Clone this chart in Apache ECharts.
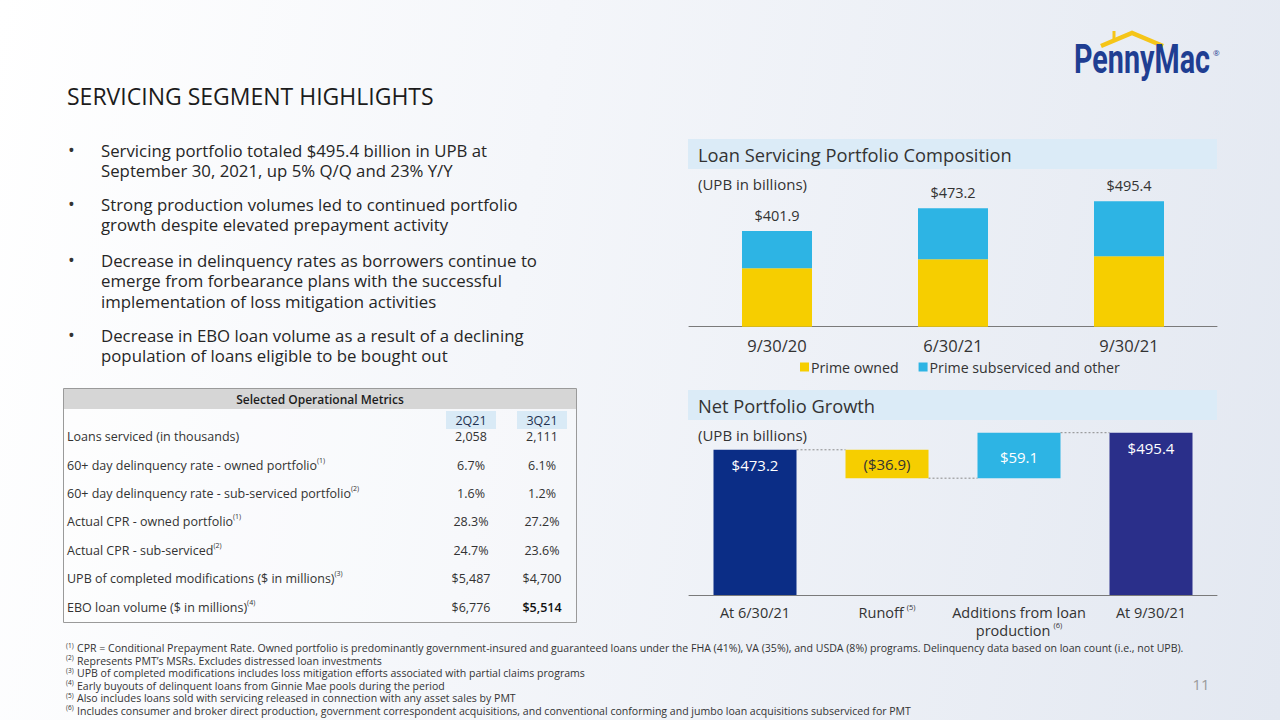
<!DOCTYPE html>
<html><head><meta charset="utf-8">
<script src="https://cdn.jsdelivr.net/npm/echarts@6/dist/echarts.min.js"></script>
<style>
html,body{margin:0;padding:0;width:1280px;height:720px;overflow:hidden;
background:linear-gradient(100deg,#ffffff 0%,#f4f6fa 40%,#e3e8f1 100%);}
#c{width:1280px;height:720px;}
</style></head><body><div id="c"></div>
<script>
// ---------- data ----------
const compCategories = ['9/30/20', '6/30/21', '9/30/21'];
const primeOwned = [284.0, 312.3, 321.8];
const primeSubserviced = [117.9, 160.9, 173.6];
const compTotals = [401.9, 473.2, 495.4];
const compSeriesNames = ['Prime owned', 'Prime subserviced and other'];

const wfCategories = ['At 6/30/21', 'Runoff', 'Additions from loan\nproduction', 'At 9/30/21'];
const wfNotes = ['', '5', '6', ''];
const wfValues = [473.2, -36.9, 59.1, 495.4];
const wfIsTotal = [true, false, false, true];

const quarterLabels = ['2Q21', '3Q21'];
const metricLabels = [
  'Loans serviced (in thousands)',
  '60+ day delinquency rate - owned portfolio',
  '60+ day delinquency rate - sub-serviced portfolio',
  'Actual CPR - owned portfolio',
  'Actual CPR - sub-serviced',
  'UPB of completed modifications ($ in millions)',
  'EBO loan volume ($ in millions)'
];
const metricNotes = ['', '1', '2', '1', '2', '3', '4'];
const metricQ2 = ['2,058', '6.7%', '1.6%', '28.3%', '24.7%', '$5,487', '$6,776'];
const metricQ3 = ['2,111', '6.1%', '1.2%', '27.2%', '23.6%', '$4,700', '$5,514'];

const bullets = [
  ['Servicing portfolio totaled $495.4 billion in UPB at', 'September 30, 2021, up 5% Q/Q and 23% Y/Y'],
  ['Strong production volumes led to continued portfolio', 'growth despite elevated prepayment activity'],
  ['Decrease in delinquency rates as borrowers continue to', 'emerge from forbearance plans with the successful', 'implementation of loss mitigation activities'],
  ['Decrease in EBO loan volume as a result of a declining', 'population of loans eligible to be bought out']
];
const footnotes = [
  'CPR = Conditional Prepayment Rate. Owned portfolio is predominantly government-insured and guaranteed loans under the FHA (41%), VA (35%), and USDA (8%) programs. Delinquency data based on loan count (i.e., not UPB).',
  'Represents PMT\u2019s MSRs. Excludes distressed loan investments',
  'UPB of completed modifications includes loss mitigation efforts associated with partial claims programs',
  'Early buyouts of delinquent loans from Ginnie Mae pools during the period',
  'Also includes loans sold with servicing released in connection with any asset sales by PMT',
  'Includes consumer and broker direct production, government correspondent acquisitions, and conventional conforming and jumbo loan acquisitions subserviced for PMT'
];

// ---------- styles ----------
const FONT = '"Open Sans", Lato, sans-serif';
const TXT = '#333333';
const YELLOW = '#F6CE00';
const CYAN = '#2DB4E4';
const wfColors = ['#0B2D86', YELLOW, CYAN, '#2A2F8A'];
const wfLabelColors = ['#ffffff', '#333333', '#ffffff', '#ffffff'];
const WF_BAR = 83;

// waterfall stacking built from the values
const wfBase = [], wfBar = [], wfLevels = [];
let running = 0;
wfValues.forEach((v, i) => {
  if (wfIsTotal[i]) { wfBase.push(0); wfBar.push(v); running = v; }
  else if (v < 0) { running += v; wfBase.push(running); wfBar.push(-v); }
  else { wfBase.push(running); wfBar.push(v); running += v; }
  wfLevels.push(running);
});
const fmtMoney = v => (v < 0 ? '($' + Math.abs(v).toFixed(1) + ')' : '$' + v.toFixed(1));

// ---------- graphic (slide texts) ----------
const g = [];
g.push({type: 'text', x: 67, y: 96, style: {text: 'SERVICING SEGMENT HIGHLIGHTS', fill: '#1c1c1c', fontSize: 23, fontFamily: FONT, verticalAlign: 'middle'}});
const bulletY = [150, 204, 260, 335];
bullets.forEach((lines, i) => {
  g.push({type: 'text', x: 68, y: bulletY[i], style: {text: '\u2022', fill: TXT, fontSize: 18, fontFamily: FONT, verticalAlign: 'middle'}});
  g.push({type: 'text', x: 101, y: bulletY[i] - 10.25, style: {text: lines.join('\n'), fill: '#262626', fontSize: 16.8, lineHeight: 20.5, fontFamily: FONT, verticalAlign: 'top'}});
});

// table
g.push({type: 'rect', shape: {x: 63.5, y: 388.5, width: 513, height: 234}, style: {fill: 'rgba(255,255,255,0.25)', stroke: '#9a9a9a', lineWidth: 1}});
g.push({type: 'rect', shape: {x: 64, y: 389, width: 512, height: 20}, style: {fill: '#d6d6d6'}});
g.push({type: 'text', x: 320, y: 399.5, style: {text: 'Selected Operational Metrics', fill: '#1c1c1c', fontSize: 12, fontWeight: 600, fontFamily: FONT, align: 'center', verticalAlign: 'middle'}});
const colX = [471, 542];
quarterLabels.forEach((q, j) => {
  g.push({type: 'rect', shape: {x: colX[j] - 25, y: 411, width: 50, height: 18}, style: {fill: '#d9eaf6'}});
  g.push({type: 'text', x: colX[j], y: 420, style: {text: q, fill: '#22304e', fontSize: 12.5, fontFamily: FONT, align: 'center', verticalAlign: 'middle'}});
});
const rowY = [436, 465, 493, 521, 550, 578, 607];
metricLabels.forEach((lab, i) => {
  g.push({type: 'text', x: 67, y: rowY[i], style: {
    text: lab + (metricNotes[i] ? '{sup|(' + metricNotes[i] + ')}' : ''),
    fill: TXT, fontSize: 12.5, lineHeight: 16, fontFamily: FONT, verticalAlign: 'middle',
    rich: {sup: {fontSize: 7, lineHeight: 8, verticalAlign: 'top', fill: TXT, fontFamily: FONT}}
  }});
  g.push({type: 'text', x: colX[0], y: rowY[i], style: {text: metricQ2[i], fill: TXT, fontSize: 12.5, fontFamily: FONT, align: 'center', verticalAlign: 'middle'}});
  g.push({type: 'text', x: colX[1], y: rowY[i], style: {text: metricQ3[i], fill: i === 6 ? '#111' : TXT, fontWeight: i === 6 ? 600 : 'normal', fontSize: 12.5, fontFamily: FONT, align: 'center', verticalAlign: 'middle'}});
});

// footnotes
const fnY = [648, 660.5, 673, 685.5, 698, 710.5];
footnotes.forEach((t, i) => {
  g.push({type: 'text', x: 66, y: fnY[i] - 3, style: {text: '(' + (i + 1) + ')', fill: TXT, fontSize: 6.5, fontFamily: FONT, verticalAlign: 'middle'}});
  g.push({type: 'text', x: 77, y: fnY[i], style: {text: t, fill: TXT, fontSize: 10.55, fontFamily: FONT, verticalAlign: 'middle'}});
});
g.push({type: 'text', x: 1201, y: 684, style: {text: '11', fill: '#9a9a9a', fontSize: 15, fontFamily: FONT, align: 'center', verticalAlign: 'middle'}});

// chart headers
[[139, 'Loan Servicing Portfolio Composition', 184], [390, 'Net Portfolio Growth', 435]].forEach(([y, t, uy]) => {
  g.push({type: 'rect', shape: {x: 688, y: y, width: 529, height: 30}, style: {fill: '#dbebf7'}});
  g.push({type: 'text', x: 698, y: y + 15, style: {text: t, fill: TXT, fontSize: 18.3, fontFamily: FONT, verticalAlign: 'middle'}});
  g.push({type: 'text', x: 698, y: uy, style: {text: '(UPB in billions)', fill: TXT, fontSize: 15, fontFamily: FONT, verticalAlign: 'middle'}});
});

// logo
const LOGO_FONT = 'bold 41px Roboto';
const mctx = document.createElement('canvas').getContext('2d');
mctx.font = LOGO_FONT;
const logoW = mctx.measureText('PennyMac').width || 180;
const logoScale = 136 / logoW;
g.push({type: 'polyline', shape: {points: [[1101, 46], [1132, 33], [1163, 46]]}, style: {stroke: '#F5C518', lineWidth: 4.5, fill: null}});
g.push({type: 'line', shape: {x1: 1114, y1: 31, x2: 1114, y2: 40}, style: {stroke: '#F5C518', lineWidth: 3}});
g.push({type: 'text', x: 1074, y: 59, scaleX: logoScale, style: {text: 'PennyMac', fill: '#1F3E92', font: LOGO_FONT, verticalAlign: 'middle'}});
g.push({type: 'text', x: 1213, y: 52, style: {text: '\u00AE', fill: '#1F3E92', fontSize: 8, fontFamily: FONT, verticalAlign: 'middle'}});

// ---------- chart ----------
const axisLineStyle = {color: '#7a7a7a', width: 1};
const option = {
  animation: false,
  textStyle: {fontFamily: FONT},
  legend: {
    data: compSeriesNames, left: 795, top: 355, itemWidth: 9, itemHeight: 9, itemGap: 20, icon: 'rect',
    textStyle: {fontSize: 14.2, color: TXT, fontFamily: FONT, padding: [0, 0, 0, -3]}
  },
  grid: [
    {left: 689, width: 528, top: 201.2, height: 125.5, containLabel: false},
    {left: 689, width: 528, top: 432.7, height: 162.3, containLabel: false}
  ],
  xAxis: [
    {type: 'category', gridIndex: 0, data: compCategories,
     axisLine: {lineStyle: axisLineStyle}, axisTick: {length: 5, lineStyle: axisLineStyle},
     axisLabel: {interval: 0, fontSize: 16.5, color: TXT, margin: 10, fontFamily: FONT}},
    {type: 'category', gridIndex: 1, data: wfCategories,
     axisLine: {lineStyle: axisLineStyle}, axisTick: {length: 5, lineStyle: axisLineStyle},
     axisLabel: {interval: 0, fontSize: 14.5, color: TXT, margin: 8, lineHeight: 18, fontFamily: FONT,
       formatter: (v, i) => v + (wfNotes[i] ? '{sup|(' + wfNotes[i] + ')}' : ''),
       rich: {sup: {fontSize: 7.5, lineHeight: 9, verticalAlign: 'top', color: TXT, padding: [0, 0, 0, 3]}}}}
  ],
  yAxis: [
    {type: 'value', gridIndex: 0, min: 100, max: 495.4, show: false, splitLine: {show: false}},
    {type: 'value', gridIndex: 1, min: 284.5, max: 495.4, show: false, splitLine: {show: false}}
  ],
  series: [
    {name: compSeriesNames[0], type: 'bar', stack: 'comp', xAxisIndex: 0, yAxisIndex: 0, barWidth: 70,
     data: primeOwned, itemStyle: {color: YELLOW}},
    {name: compSeriesNames[1], type: 'bar', stack: 'comp', xAxisIndex: 0, yAxisIndex: 0, barWidth: 70,
     data: primeSubserviced, itemStyle: {color: CYAN},
     label: {show: true, position: 'top', distance: 8, fontSize: 14.5, color: TXT, fontFamily: FONT,
       formatter: p => '$' + compTotals[p.dataIndex].toFixed(1)}},
    {name: 'base', type: 'bar', stack: 'wf', xAxisIndex: 1, yAxisIndex: 1, barWidth: WF_BAR,
     data: wfBase, itemStyle: {color: 'rgba(0,0,0,0)'}, silent: true},
    {name: 'change', type: 'bar', stack: 'wf', xAxisIndex: 1, yAxisIndex: 1, barWidth: WF_BAR,
     data: wfBar.map((v, i) => ({
       value: v, itemStyle: {color: wfColors[i]},
       label: {show: true, position: wfIsTotal[i] ? 'insideTop' : 'inside', distance: 8,
         color: wfLabelColors[i], fontSize: 15, fontFamily: FONT,
         offset: wfIsTotal[i] ? [0, 0] : (wfValues[i] > 0 ? [0, 2] : [0, 0]),
         formatter: () => fmtMoney(wfValues[i])}
     }))},
    {name: 'connectors', type: 'custom', xAxisIndex: 1, yAxisIndex: 1, silent: true,
     data: wfLevels.slice(0, -1).map((lv, i) => [i, lv]),
     renderItem: (params, api) => {
       const i = api.value(0), v = api.value(1);
       const p0 = api.coord([i, v]), p1 = api.coord([i + 1, v]);
       return {type: 'line', shape: {x1: p0[0] + WF_BAR / 2, y1: p0[1], x2: p1[0] - WF_BAR / 2, y2: p1[1]},
         style: {stroke: '#8a8a8a', lineWidth: 1, lineDash: [2, 2]}};
     }}
  ],
  graphic: {elements: g}
};
const chart = echarts.init(document.getElementById('c'), null, {renderer: 'svg'});
chart.setOption(option);
</script></body></html>
